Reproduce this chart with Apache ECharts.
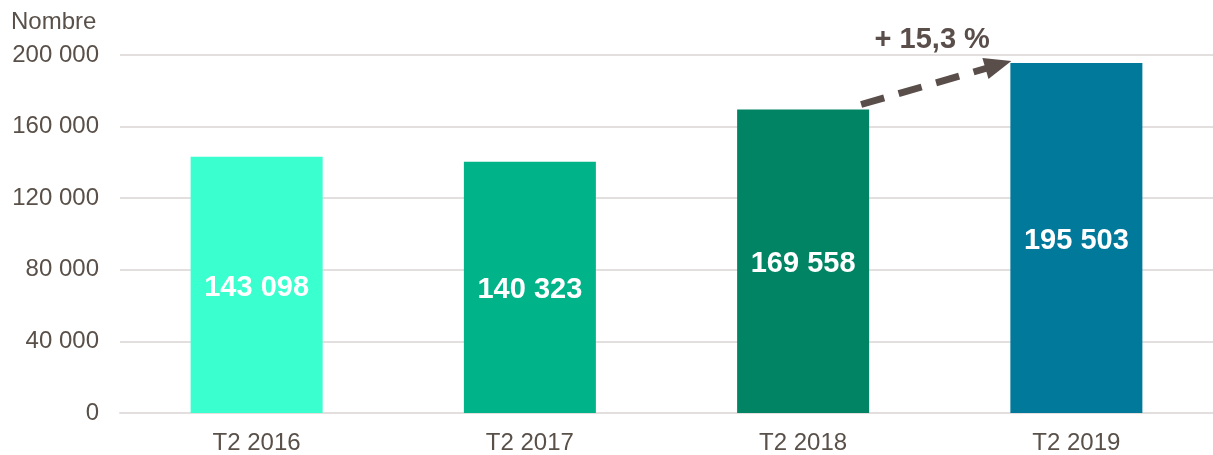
<!DOCTYPE html>
<html>
<head>
<meta charset="utf-8">
<script src="https://cdn.jsdelivr.net/npm/echarts@6/dist/echarts.min.js"></script>
<style>
  html, body { margin: 0; padding: 0; background: #fff; }
  #chart { width: 1213px; height: 455px; }
</style>
</head>
<body>
<div id="chart"></div>
<script>
const categories = ["T2 2016", "T2 2017", "T2 2018", "T2 2019"];
const values = [143098, 140323, 169558, 195503];
const barColors = ["#3AFFCF", "#00B388", "#008463", "#00799B"];
const growthLabel = "+ 15,3 %";

const textColor = "#595049";
const arrowColor = "#5A4E4B";
const barWidth = 132;
const font = "Liberation Sans, Arial, sans-serif";

// espace comme séparateur de milliers
function fmt(v) {
  return String(v).replace(/\B(?=(\d{3})+(?!\d))/g, " ");
}

const myChart = echarts.init(document.getElementById("chart"));

const option = {
  animation: false,
  title: {
    text: "Nombre",
    left: 6,
    top: 5,
    textStyle: {
      color: textColor,
      fontSize: 24,
      fontWeight: "normal",
      fontFamily: font,
    },
  },
  grid: {
    left: 120,
    right: 0,
    top: 55,
    bottom: 42,
  },
  xAxis: {
    type: "category",
    data: categories,
    axisLine: { show: true, lineStyle: { color: "#E4DFDF", width: 2 } },
    axisTick: { show: false },
    axisLabel: {
      color: textColor,
      fontSize: 24,
      margin: 18,
      fontFamily: font,
    },
  },
  yAxis: {
    type: "value",
    min: 0,
    max: 200000,
    interval: 40000,
    axisLine: { show: false },
    axisTick: { show: false },
    axisLabel: {
      color: textColor,
      fontSize: 24,
      margin: 21,
      fontFamily: font,
      formatter: fmt,
    },
    splitLine: { lineStyle: { color: "#E4DFDF", width: 2 } },
  },
  series: [
    {
      type: "bar",
      barWidth: barWidth,
      data: values.map((v, i) => ({ value: v, itemStyle: { color: barColors[i] } })),
      label: {
        show: true,
        position: "inside",
        offset: [0, 3],
        color: "#fff",
        fontSize: 29,
        fontWeight: "bold",
        fontFamily: font,
        formatter: (p) => fmt(p.value),
      },
    },
  ],
};

myChart.setOption(option);

// flèche pointillée entre T2 2018 et T2 2019, placée via les échelles du graphique
const p0 = myChart.convertToPixel({ seriesIndex: 0 }, [2, values[2]]);
const p1 = myChart.convertToPixel({ seriesIndex: 0 }, [3, values[3]]);
const x0 = p0[0] + barWidth / 2 - 8, y0 = p0[1] - 5;
const x1 = p1[0] - barWidth / 2 + 1, y1 = p1[1] - 2;
const ang = Math.atan2(y1 - y0, x1 - x0);
const headLen = 27, headHalf = 11;
const bx = x1 - headLen * Math.cos(ang), by = y1 - headLen * Math.sin(ang);
const nx = -Math.sin(ang), ny = Math.cos(ang);

myChart.setOption({
  graphic: [
    {
      type: "line",
      shape: { x1: x0, y1: y0, x2: bx + 2 * Math.cos(ang), y2: by + 2 * Math.sin(ang) },
      style: { stroke: arrowColor, lineWidth: 7, lineDash: [24, 15] },
    },
    {
      type: "polygon",
      shape: {
        points: [
          [x1, y1],
          [bx + nx * headHalf, by + ny * headHalf],
          [bx - nx * headHalf, by - ny * headHalf],
        ],
      },
      style: { fill: arrowColor },
    },
    {
      type: "text",
      x: (x0 + x1) / 2 - 4,
      y: 40,
      style: {
        text: growthLabel,
        fill: arrowColor,
        fontSize: 29,
        fontWeight: "bold",
        fontFamily: font,
        align: "center",
        verticalAlign: "middle",
      },
    },
  ],
});
</script>
</body>
</html>
